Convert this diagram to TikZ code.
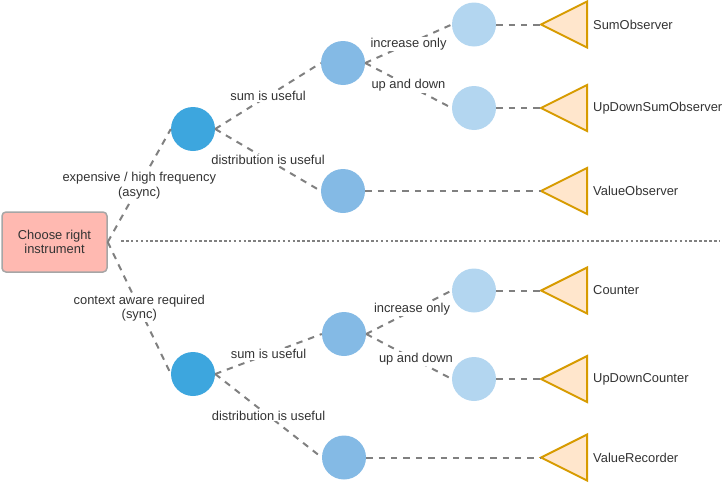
\documentclass[tikz,border=0pt]{standalone}
\usepackage{fontspec}
\setmainfont{Liberation Sans}
\definecolor{txt}{HTML}{333333}
\definecolor{lgray}{HTML}{808080}
\definecolor{cA}{HTML}{3DA6DE}
\definecolor{cB}{HTML}{84BAE5}
\definecolor{cC}{HTML}{B3D6F0}
\definecolor{boxfill}{HTML}{FFB9B1}
\definecolor{boxline}{HTML}{A6A6A6}
\definecolor{trifill}{HTML}{FFE6CC}
\definecolor{triline}{HTML}{D79B00}
\begin{document}
\begin{tikzpicture}[x=1pt,y=-1pt,
  every node/.style={font=\fontsize{12.9}{14.5}\selectfont, text=txt},
  edge/.style={draw=lgray, line width=2pt, dash pattern=on 6.4pt off 6pt},
  sepline/.style={draw=lgray, line width=1.8pt, dash pattern=on 2.6pt off 2.3pt},
  lbl/.style={fill=white, inner sep=1pt, align=center},
  lvA/.style={circle, fill=cA, minimum size=44pt, inner sep=0pt},
  lvB/.style={circle, fill=cB, minimum size=44pt, inner sep=0pt},
  lvC/.style={circle, fill=cC, minimum size=44pt, inner sep=0pt},
  tri/.style={draw=triline, fill=trifill, line width=2pt, line join=miter},
  instname/.style={anchor=west, inner sep=0pt}
]
\useasboundingbox (0,0) rectangle (723,482);

% root
\node[draw=boxline, fill=boxfill, rounded corners=4pt, line width=1.5pt,
      minimum width=105pt, minimum height=60pt, align=center] (root) at (54.5,242) {Choose right\\instrument};

% separator
\coordinate (sepL) at (121,241);
\coordinate (sepR) at (720,241);
\draw[sepline] (sepL) -- (sepR);

% top branch nodes
\node[lvA] (a1) at (193,129) {};
\node[lvB] (a2) at (343,63) {};
\node[lvB] (a3) at (343,191) {};
\node[lvC] (a4) at (474,24.5) {};
\node[lvC] (a5) at (474,108) {};
\coordinate (ta4) at (541,24.5);
\coordinate (ta5) at (541,108);
\coordinate (ta3) at (541,191);

% bottom branch nodes
\node[lvA] (b1) at (193,374) {};
\node[lvB] (b2) at (344,334) {};
\node[lvB] (b3) at (344,457.5) {};
\node[lvC] (b4) at (474,290.5) {};
\node[lvC] (b5) at (474,379) {};
\coordinate (tb4) at (541,290.5);
\coordinate (tb5) at (541,379);
\coordinate (tb3) at (541,457.5);

% triangles
\foreach \t in {ta4,ta5,ta3,tb4,tb5,tb3}{
  \draw[tri] (\t) -- ++(46,-23) -- ++(0,46) -- cycle;
}

% edges top
\draw[edge] (root.east) -- node[lbl]{expensive / high frequency\\(async)} (a1.west);
\draw[edge] (a1.east) -- node[lbl]{sum is useful} (a2.west);
\draw[edge] (a1.east) -- node[lbl]{distribution is useful} (a3.west);
\draw[edge] (a2.east) -- node[lbl]{increase only} (a4.west);
\draw[edge] (a2.east) -- node[lbl]{up and down} (a5.west);
\draw[edge] (a4.east) -- (ta4);
\draw[edge] (a5.east) -- (ta5);
\draw[edge] (a3.east) -- (ta3);

% edges bottom
\draw[edge] (root.east) -- node[lbl]{context aware required\\(sync)} (b1.west);
\draw[edge] (b1.east) -- node[lbl]{sum is useful} (b2.west);
\draw[edge] (b1.east) -- node[lbl]{distribution is useful} (b3.west);
\draw[edge] (b2.east) -- node[lbl, xshift=3pt, yshift=3.5pt]{increase only} (b4.west);
\draw[edge] (b2.east) -- node[lbl, xshift=7pt, yshift=-2.5pt]{up and down} (b5.west);
\draw[edge] (b4.east) -- (tb4);
\draw[edge] (b5.east) -- (tb5);
\draw[edge] (b3.east) -- (tb3);

% names
\node[instname] (n1) at (593,24.5) {SumObserver};
\node[instname] (n2) at (593,108) {UpDownSumObserver};
\node[instname] (n3) at (593,191) {ValueObserver};
\node[instname] (n4) at (593,290.5) {Counter};
\node[instname] (n5) at (593,379) {UpDownCounter};
\node[instname] (n6) at (593,457.5) {ValueRecorder};
\end{tikzpicture}
\end{document}
